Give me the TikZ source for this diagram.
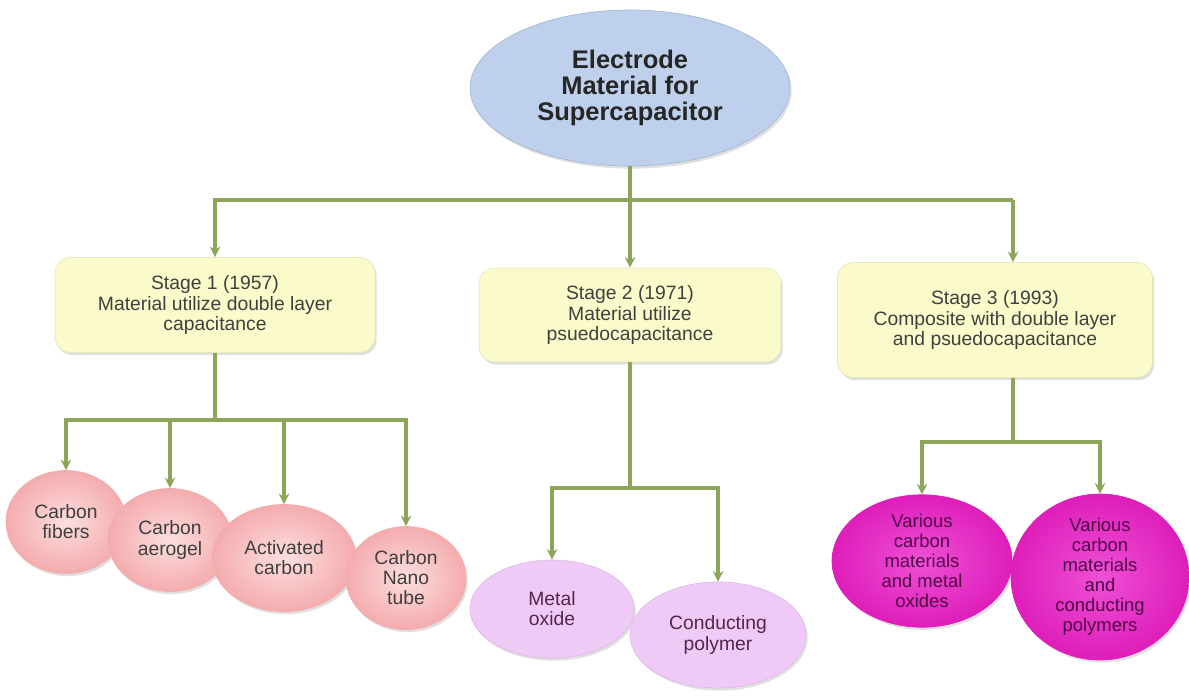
\documentclass[tikz,border=0pt]{standalone}
\usepackage{fontspec}
\setmainfont{Liberation Sans}
\usetikzlibrary{arrows.meta,shapes.geometric,shadows,positioning}

\definecolor{linkgreen}{RGB}{140,165,88}
\definecolor{rootfill}{RGB}{190,208,235}
\definecolor{rootedge}{RGB}{165,185,215}
\definecolor{stagefill}{RGB}{250,250,202}
\definecolor{stageedge}{RGB}{232,232,185}
\definecolor{pinkin}{RGB}{253,222,222}
\definecolor{pinkout}{RGB}{244,172,174}
\definecolor{lilac}{RGB}{240,202,246}
\definecolor{lilacedge}{RGB}{225,185,235}
\definecolor{magin}{RGB}{238,80,214}
\definecolor{magout}{RGB}{222,30,186}

\tikzset{
  link/.style={draw=linkgreen, line width=2pt},
  arrow/.style={link, -{Stealth[length=6pt,width=6pt]}},
  soft/.style={drop shadow={opacity=0.25, shadow xshift=1pt, shadow yshift=-1.5pt}},
  root/.style={ellipse, draw=rootedge, fill=rootfill, soft, inner sep=0pt,
    align=center, text=black!85, font=\fontsize{14.5}{15}\selectfont\bfseries},
  stage/.style={rectangle, rounded corners=9pt, draw=stageedge, fill=stagefill, soft,
    align=center, text=black!75, font=\fontsize{11}{11.4}\selectfont},
  carbon/.style={ellipse, draw=pinkout, inner color=pinkin, outer color=pinkout, soft,
    inner sep=0pt, align=center, text=black!75, font=\fontsize{11}{11.4}\selectfont},
  pseudo/.style={ellipse, draw=lilacedge, fill=lilac, soft, inner sep=0pt,
    align=center, text={rgb,255:red,80;green,40;blue,75}, font=\fontsize{11}{11.4}\selectfont},
  hybrid/.style={ellipse, draw=magout, inner color=magin, outer color=magout, soft,
    inner sep=0pt, align=center, text={rgb,255:red,80;green,10;blue,70}, font=\fontsize{10.5}{11.4}\selectfont}
}

\begin{document}
\begin{tikzpicture}[x=0.02cm, y=-0.02cm]
        \useasboundingbox (0,0) rectangle (1189,696);

        % root and stages
        \node[root, minimum width=6.4cm, minimum height=3.12cm] (root) at (630,88)
             {Electrode\\Material for\\Supercapacitor};
        \node[stage, minimum width=6.4cm, minimum height=1.9cm] (s1) at (215,305)
             {Stage 1 (1957)\\Material utilize double layer\\capacitance};
        \node[stage, minimum width=6.04cm, minimum height=1.88cm] (s2) at (630,315)
             {Stage 2 (1971)\\Material utilize\\psuedocapacitance};
        \node[stage, minimum width=6.3cm, minimum height=2.3cm] (s3) at (995,320)
             {Stage 3 (1993)\\Composite with double layer\\and psuedocapacitance};

        % stage 1 materials
        \node[carbon, minimum width=2.4cm, minimum height=2.06cm] (c1) at (66,522) {Carbon\\fibers};
        \node[carbon, minimum width=2.48cm, minimum height=2.06cm] (c2) at (170,540) {Carbon\\aerogel};
        \node[carbon, minimum width=2.88cm, minimum height=2.14cm] (c3) at (284,558) {Activated\\carbon};
        \node[carbon, minimum width=2.4cm, minimum height=2.06cm] (c4) at (406,578) {Carbon\\Nano\\tube};

        % stage 2 materials
        \node[pseudo, minimum width=3.28cm, minimum height=1.96cm] (p1) at (552,609) {Metal\\oxide};
        \node[pseudo, minimum width=3.52cm, minimum height=2.12cm] (p2) at (718,635) {Conducting\\polymer};

        % stage 3 materials
        \node[hybrid, minimum width=3.6cm, minimum height=2.32cm] (h1) at (922,561)
             {Various\\carbon\\materials\\and metal\\oxides};
        \node[hybrid, minimum width=3.56cm, minimum height=2.68cm] (h2) at (1100,577)
             {Various\\carbon\\materials\\and\\conducting\\polymers};

        % junctions
        \coordinate (j0) at (630,200);
        \coordinate (j3) at (1013,200);
        \coordinate (k1) at (215,420);
        \coordinate (k2) at (630,488);
        \coordinate (k3) at (1013,442);

        \draw[link] (root) -- (j0);
        \draw[arrow] (j0) -| (s1);
        \draw[arrow] (j0) -- (s2);
        \draw[link] (j0) -- (j3);
        \draw[arrow] (j3) -- (j3 |- s3.north);

        \draw[link] (s1) -- (k1);
        \draw[arrow] (k1) -| (c1);
        \draw[arrow] (k1) -| (c2);
        \draw[arrow] (k1) -| (c3);
        \draw[arrow] (k1) -| (c4);

        \draw[link] (s2) -- (k2);
        \draw[arrow] (k2) -| (p1);
        \draw[arrow] (k2) -| (p2);

        \draw[link] (s3.south -| k3) -- (k3);
        \draw[arrow] (k3) -| (h1);
        \draw[arrow] (k3) -| (h2);
\end{tikzpicture}
\end{document}
